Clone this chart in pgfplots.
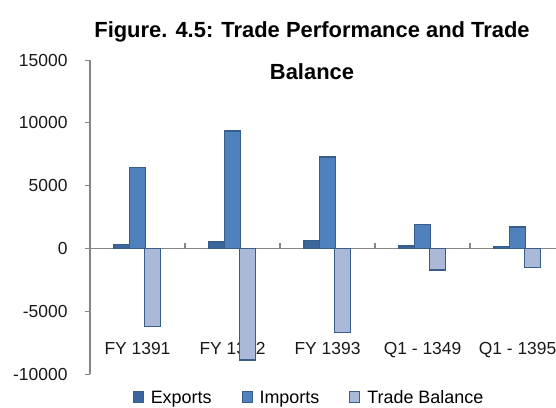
\documentclass[border=0pt]{standalone}
\usepackage{pgfplots}
\pgfplotsset{compat=1.18}
\usepackage{fontspec}
\setmainfont{Liberation Sans}
\definecolor{axgray}{HTML}{868686}
\definecolor{expc}{HTML}{3C679E}
\definecolor{impc}{HTML}{4F81BD}
\definecolor{tbc}{HTML}{AAB9D8}
\definecolor{edgec}{HTML}{385D8A}
\begin{document}
\begin{tikzpicture}[x=1bp,y=1bp]
\useasboundingbox (0,0) rectangle (556,407);
\clip (0,0) rectangle (556,407);
\begin{axis}[
  scale only axis, width=466bp, height=314bp,
  at={(90bp,33bp)}, anchor=south west,
  xmin=-0.5, xmax=4.405, ymin=-10000, ymax=15000,
  axis y line=left, axis x line=middle,
  axis line style={-, draw=axgray, line width=1.2bp},
  scaled y ticks=false,
  xtick={0.5,1.5,2.5,3.5},
  xticklabels={},
  extra x ticks={0,1,2,3,4},
  extra x tick labels={FY 1391,FY 1392,FY 1393,Q1 - 1349,Q1 - 1395},
  extra x tick style={major tick length=0pt, tick style={draw=none}},
  x tick style={draw=axgray, line width=1.2bp, yshift=5bp},
  ytick={-10000,-5000,0,5000,10000,15000},
  yticklabels={-10000,-5000,0,5000,10000,15000},
  major tick length=5bp,
  tick align=outside,
  y tick style={draw=axgray, line width=1bp},
  tick label style={font=\fontsize{17.5}{20}\selectfont, text=black!90},
  xticklabel style={yshift=-90bp},
  yticklabel style={xshift=-14bp},
  ybar, bar width=16bp,
  legend style={at={(0.470,-0.0764)}, anchor=center, draw=none, fill=none,
    legend columns=3, font=\fontsize{18}{20}\selectfont,
    /tikz/every odd column/.append style={column sep=5bp},
    /tikz/every even column/.append style={column sep=28bp}},
  legend image code/.code={\draw[#1, line width=1bp] (0bp,-5bp) rectangle (10bp,6bp);},
  clip=false,
]
\addplot[bar shift=-15.5bp, fill=expc, draw=edgec, line width=1.4bp] coordinates {(0,320) (1,500) (2,650) (3,180) (4,170)};
\addplot[bar shift=0bp, fill=impc, draw=edgec, line width=1.4bp] coordinates {(0,6450) (1,9360) (2,7290) (3,1890) (4,1700)};
\addplot[bar shift=15bp, fill=tbc, draw=edgec, line width=1.4bp] coordinates {(0,-6200) (1,-8900) (2,-6680) (3,-1730) (4,-1540)};
\legend{Exports,Imports,Trade Balance}
\end{axis}
\node[font=\bfseries\fontsize{22}{26}\selectfont, anchor=base] at (312,370) {Figure. 4.5: Trade Performance and Trade};
\node[font=\bfseries\fontsize{22}{26}\selectfont, anchor=base] at (312,328) {Balance};
\end{tikzpicture}
\end{document}
